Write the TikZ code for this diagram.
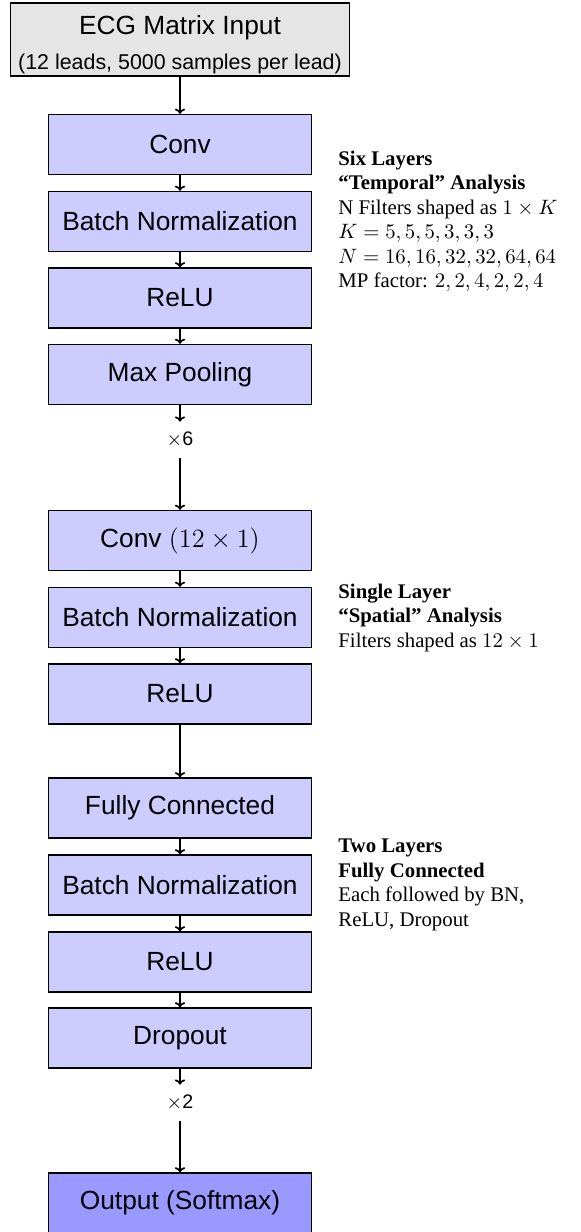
\documentclass[tikz,border=0pt]{standalone}
\usepackage{fix-cm}
\usepackage[no-math]{fontspec}
\setmainfont{Liberation Serif}
\setsansfont{Liberation Sans}
\usetikzlibrary{arrows.meta}
\begin{document}
\begin{tikzpicture}[x=0.5pt,y=-0.5pt,
  layer/.style={draw=black, line width=0.65pt, fill=blue!20, minimum width=131.8pt, minimum height=30pt, inner sep=0pt,
    font=\sffamily\fontsize{13.15}{15.8}\selectfont},
  outlayer/.style={layer, fill=blue!40},
  inbox/.style={draw=black, line width=0.65pt, fill=gray!20, minimum width=169.7pt, minimum height=36.5pt, inner sep=0pt,
    align=center, font=\sffamily\fontsize{10.7}{17.5}\selectfont},
  rep/.style={inner sep=0pt, minimum height=18pt, font=\sffamily\fontsize{9.8}{12}\selectfont},
  note/.style={anchor=west, inner sep=0pt, align=left, font=\rmfamily\fontsize{10.4}{12.25}\selectfont},
  conn/.style={line width=0.85pt, -{To[length=2.6pt,width=5.2pt]}}]
\useasboundingbox (0,0) rectangle (580,1232);

\node[inbox] (in) at (180,39.5) {{\fontsize{13.15}{17.5}\selectfont\rule{0pt}{14.3pt}ECG Matrix Input}\\(12 leads, 5000 samples per lead)};

\node[layer] (c1) at (180,144.5) {Conv};
\node[layer] (b1) at (180,221.5) {Batch Normalization};
\node[layer] (r1) at (180,298) {ReLU};
\node[layer] (m1) at (180,374.5) {Max Pooling};
\node[rep]   (x6) at (180,440) {$\times$6};

\node[layer] (c2) at (180,540.5) {Conv $(12\times1)$};
\node[layer] (b2) at (180,617.5) {Batch Normalization};
\node[layer] (r2) at (180,694) {ReLU};

\node[layer] (f3) at (180,808) {Fully Connected};
\node[layer] (b3) at (180,885) {Batch Normalization};
\node[layer] (r3) at (180,962) {ReLU};
\node[layer] (d3) at (180,1038) {Dropout};
\node[rep]   (x2) at (180,1103) {$\times$2};

\node[outlayer] (out) at (180,1203) {Output (Softmax)};

\node[note] (t1) at (338,221.5) {\textbf{Six Layers}\\\textbf{``Temporal'' Analysis}\\N Filters shaped as $1\times K$\\$K=5,5,5,3,3,3$\\$N=16,16,32,32,64,64$\\MP factor: $2,2,4,2,2,4$};
\node[note] (t2) at (338,617.5) {\textbf{Single Layer}\\\textbf{``Spatial'' Analysis}\\Filters shaped as $12\times1$};
\node[note] (t3) at (338,885) {\textbf{Two Layers}\\\textbf{Fully Connected}\\Each followed by BN,\\ReLU, Dropout};

\draw[conn] (in) -- (c1);
\draw[conn] (c1) -- (b1);
\draw[conn] (b1) -- (r1);
\draw[conn] (r1) -- (m1);
\draw[conn] (m1) -- (x6);
\draw[conn] (x6) -- (c2);
\draw[conn] (c2) -- (b2);
\draw[conn] (b2) -- (r2);
\draw[conn] (r2) -- (f3);
\draw[conn] (f3) -- (b3);
\draw[conn] (b3) -- (r3);
\draw[conn] (r3) -- (d3);
\draw[conn] (d3) -- (x2);
\draw[conn] (x2) -- (out);
\end{tikzpicture}
\end{document}
